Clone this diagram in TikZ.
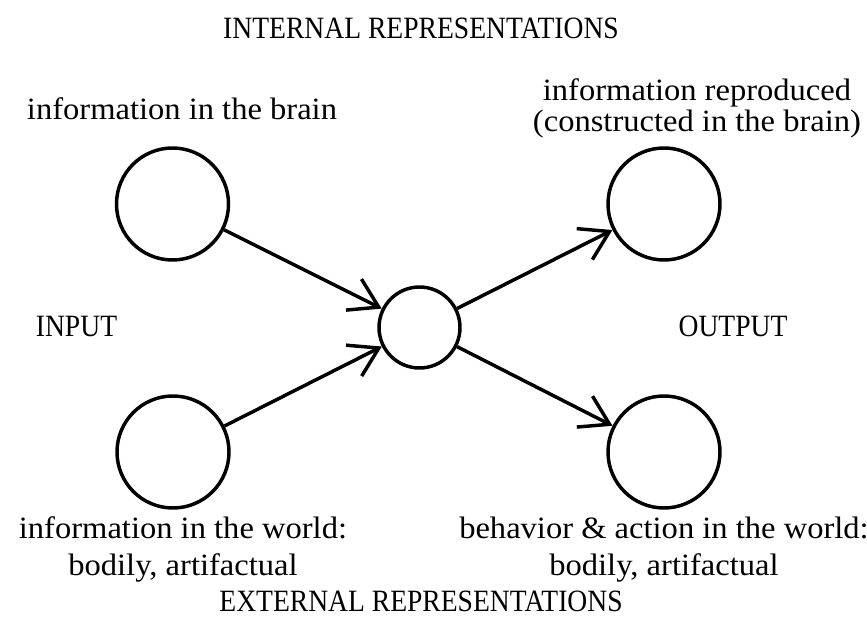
\documentclass[tikz,border=0pt]{standalone}
\usepackage{fontspec}
\setmainfont{Liberation Serif}
\newfontfamily\capsfont[FakeStretch=0.89]{Liberation Serif}
\newfontfamily\lowfont[FakeStretch=1.05]{Liberation Serif}
\usetikzlibrary{arrows.meta}
\begin{document}
\begin{tikzpicture}[x=0.75pt,y=-0.75pt,
  unit/.style={circle,draw,line width=2.6pt,inner sep=0pt,minimum size=84pt},
  hub/.style={circle,draw,line width=2.6pt,inner sep=0pt,minimum size=60.75pt},
  flow/.style={line width=2.6pt,-{Straight Barb[length=21pt,width=26pt,line width=2.6pt]}},
  heading/.style={anchor=base,inner sep=0pt,font=\capsfont\fontsize{23.25}{28}\selectfont},
  caption/.style={anchor=base,inner sep=0pt,font=\lowfont\fontsize{23.25}{28}\selectfont}]
\useasboundingbox (0,0) rectangle (867,630);

% headings
\node[heading] (internal) at (421,38.5) {INTERNAL REPRESENTATIONS};
\node[heading] (external) at (421,611) {EXTERNAL REPRESENTATIONS};
\node[heading] (input) at (76.5,337) {INPUT};
\node[heading] (output) at (733,337) {OUTPUT};

% captions
\node[caption] (brain) at (182,119.3) {information in the brain};
\node[caption] (reproA) at (697,100.7) {information reproduced};
\node[caption] (reproB) at (697,131.7) {(constructed in the brain)};
\node[caption] (worldA) at (183,538.3) {information in the world:};
\node[caption] (worldB) at (183,575) {bodily, artifactual};
\node[caption] (actA) at (664,538.3) {behavior \& action in the world:};
\node[caption] (actB) at (664,575) {bodily, artifactual};

% circles
\node[unit] (inTop) at (172.5,204) {};
\node[unit] (inBot) at (173,452) {};
\node[unit] (outTop) at (664,204) {};
\node[unit] (outBot) at (664,452) {};
\node[hub] (core) at (419.5,327.5) {};

% connectors
\draw[flow] (inTop) -- (core);
\draw[flow] (inBot) -- (core);
\draw[flow] (core) -- (outTop);
\draw[flow] (core) -- (outBot);
\end{tikzpicture}
\end{document}
